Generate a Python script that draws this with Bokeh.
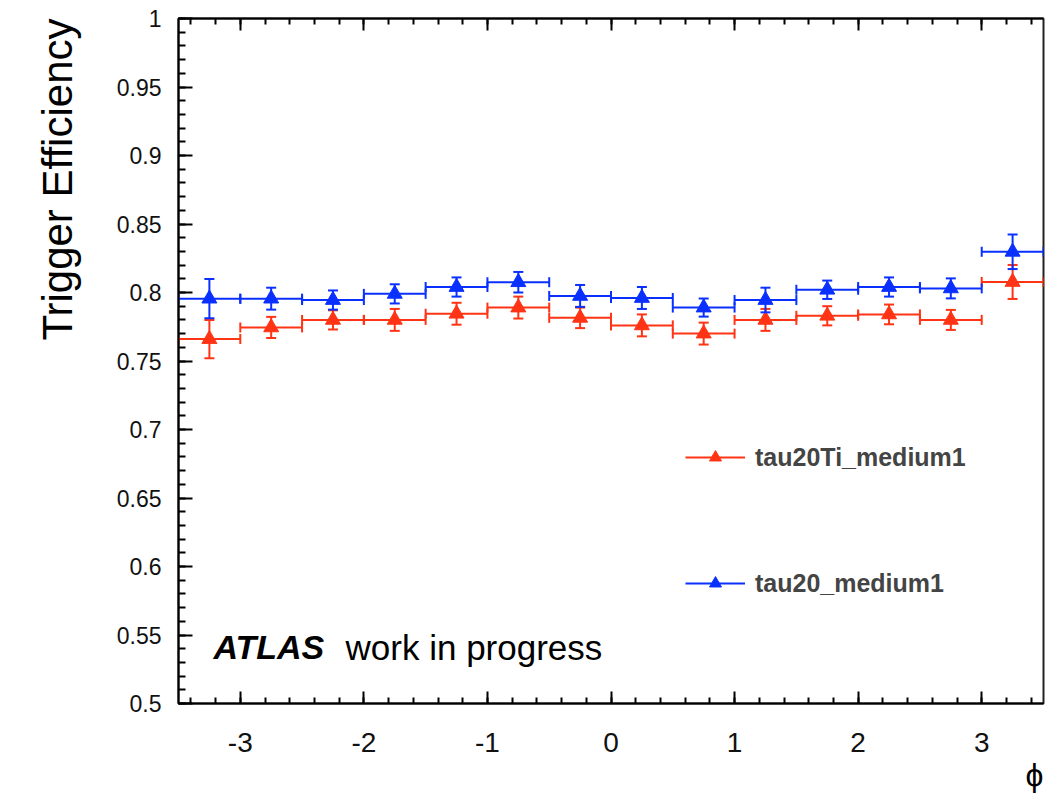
import math
from bokeh.plotting import figure
from bokeh.models import (Range1d, SingleIntervalTicker, LinearAxis, Whisker, TeeHead, Title,
                          ColumnDataSource, Label, Legend, LegendItem, CustomJSTickFormatter)
from bokeh.embed import file_html
from bokeh.resources import INLINE

# ---- data ----
bin_edges = [-3.5, -3.0, -2.5, -2.0, -1.5, -1.0, -0.5, 0.0, 0.5, 1.0, 1.5, 2.0, 2.5, 3.0, 3.5]
eff_tau20Ti = [0.766, 0.7745, 0.780, 0.780, 0.7845, 0.789, 0.7815,
               0.776, 0.770, 0.780, 0.783, 0.784, 0.780, 0.8077]
err_tau20Ti = [0.014, 0.0077, 0.007, 0.008, 0.008, 0.008, 0.0075,
               0.008, 0.008, 0.008, 0.007, 0.0072, 0.0073, 0.0124]
eff_tau20 = [0.7955, 0.7955, 0.7945, 0.799, 0.804, 0.8075, 0.7975,
             0.796, 0.789, 0.7945, 0.802, 0.804, 0.803, 0.8297]
err_tau20 = [0.0143, 0.008, 0.007, 0.007, 0.007, 0.0075, 0.008,
             0.008, 0.0066, 0.009, 0.0067, 0.007, 0.0073, 0.0126]
series_names = ["tau20Ti_medium1", "tau20_medium1"]
x_title = "\u03d5"
y_title = "Trigger Efficiency"

RED = "#ff3414"
BLUE = "#0a30ff"
FONT = "Liberation Sans"

lo = bin_edges[:-1]
hi = bin_edges[1:]
centers = [(a + b) / 2 for a, b in zip(lo, hi)]

p = figure(width=1048, height=795, x_range=Range1d(-3.5, 3.5), y_range=Range1d(0.5, 1.0),
           output_backend="svg", toolbar_location=None,
           min_border_left=178, min_border_right=5, min_border_top=18, min_border_bottom=92,
           background_fill_color="white", border_fill_color="white")
p.grid.visible = False
p.outline_line_color = "#222222"
p.outline_line_width = 2

xa = p.xaxis[0]
xa.ticker = SingleIntervalTicker(interval=1, num_minor_ticks=5)
xa.formatter = CustomJSTickFormatter(code="return String(Math.round(tick));")
xa.major_tick_in = 12
xa.major_tick_out = 0
xa.minor_tick_in = 6
xa.minor_tick_out = 0
xa.axis_line_width = 2
xa.major_tick_line_width = 2
xa.minor_tick_line_width = 2
xa.major_label_text_font = FONT
xa.major_label_text_font_size = "28px"
xa.major_label_text_color = "#111111"
xa.major_label_standoff = 29

ya = p.yaxis[0]
ya.ticker = SingleIntervalTicker(interval=0.05, num_minor_ticks=5)
ya.formatter = CustomJSTickFormatter(code="return String(Math.round(tick*100)/100);")
ya.major_tick_in = 14
ya.major_tick_out = 0
ya.minor_tick_in = 7
ya.minor_tick_out = 0
ya.axis_line_width = 2
ya.major_tick_line_width = 2
ya.minor_tick_line_width = 2
ya.major_label_text_font = FONT
ya.major_label_text_font_size = "23px"
ya.major_label_text_color = "#111111"
ya.major_label_standoff = 17

top = LinearAxis(ticker=SingleIntervalTicker(interval=1, num_minor_ticks=5),
                 formatter=CustomJSTickFormatter(code="return '';"),
                 major_label_standoff=0,
                 major_tick_in=12, major_tick_out=0, minor_tick_in=6, minor_tick_out=0,
                 axis_line_width=2, major_tick_line_width=2, minor_tick_line_width=2)
p.add_layout(top, "above")

legend_items = []
for eff, err, col, name in [(eff_tau20Ti, err_tau20Ti, RED, series_names[0]),
                            (eff_tau20, err_tau20, BLUE, series_names[1])]:
    src = ColumnDataSource(dict(x=centers, lo=lo, hi=hi, y=eff,
                                ylo=[e - s for e, s in zip(eff, err)],
                                yhi=[e + s for e, s in zip(eff, err)]))
    seg = p.segment(x0="lo", y0="y", x1="hi", y1="y", source=src, line_color=col, line_width=2)
    p.add_layout(Whisker(source=src, base="y", lower="lo", upper="hi", dimension="width",
                         line_alpha=0, level="glyph",
                         upper_head=TeeHead(size=10, line_color=col, line_width=2),
                         lower_head=TeeHead(size=10, line_color=col, line_width=2)))
    p.add_layout(Whisker(source=src, base="x", lower="ylo", upper="yhi", dimension="height",
                         line_color=col, line_width=2, level="glyph",
                         upper_head=TeeHead(size=10, line_color=col, line_width=2),
                         lower_head=TeeHead(size=10, line_color=col, line_width=2)))
    tri = p.scatter(x="x", y="y", source=src, marker="triangle", size=15,
                    fill_color=col, line_color=col)
    legend_items.append(LegendItem(label=name, renderers=[seg, tri]))

legend = Legend(items=legend_items, location=(507, 105), glyph_width=60, glyph_height=30,
                label_height=30, spacing=96, padding=0, margin=0, label_standoff=10,
                label_text_font=FONT, label_text_font_style="bold", label_text_font_size="25px",
                border_line_alpha=0, background_fill_alpha=0)
p.add_layout(legend)

p.add_layout(Label(x=-3.217, y=0.5412, text="ATLAS", text_font=FONT, text_font_style="bold italic",
                   text_font_size="34px", text_baseline="alphabetic", text_color="black"))
p.add_layout(Label(x=-2.148, y=0.5412, text="work in progress", text_font=FONT,
                   text_font_size="35px", text_baseline="alphabetic", text_color="black"))

p.add_layout(Title(text=y_title, align="right", vertical_align="top", text_font=FONT,
                   text_font_size="42px", text_font_style="normal", text_color="black",
                   standoff=62), "left")
p.add_layout(Title(text=x_title, align="right", text_font=FONT, text_font_size="32px",
                   text_font_style="normal", text_color="black", standoff=0), "below")

open("out.html", "w").write(file_html(p, INLINE))
